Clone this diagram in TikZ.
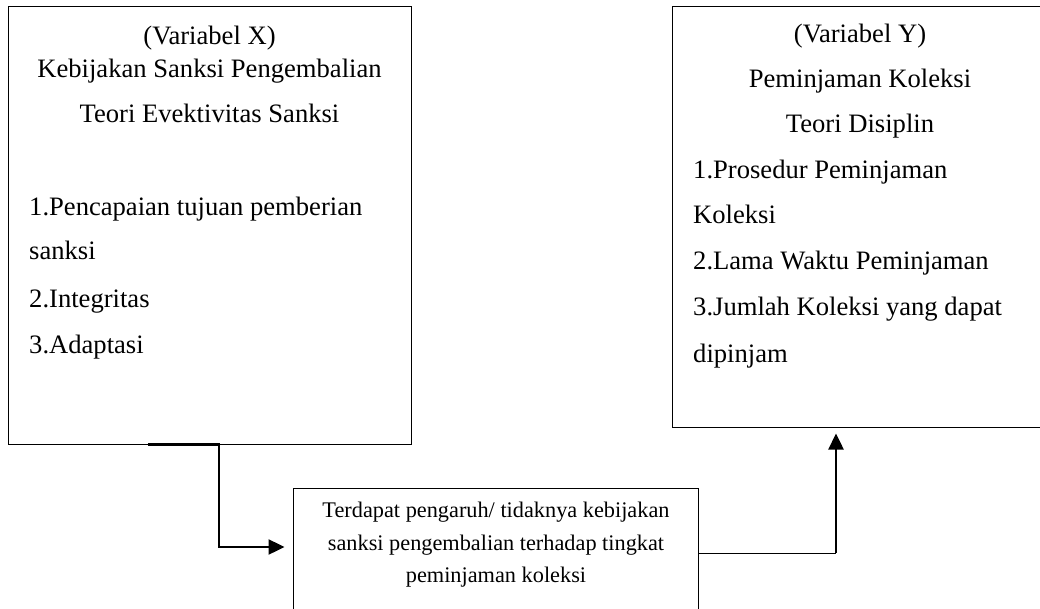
\documentclass[tikz,border=0pt]{standalone}
\usepackage{fontspec}
\setmainfont{Liberation Serif}
\usetikzlibrary{arrows.meta}
\tikzset{
  box/.style={draw, line width=1pt, inner sep=0pt},
  big/.style={font=\fontsize{26.6}{30}\selectfont, inner sep=0pt},
  small/.style={font=\fontsize{22.3}{26}\selectfont, inner sep=0pt},
  link/.style={line width=2.4pt, -{Triangle[length=16pt,width=15pt]}},
}
\begin{document}
\begin{tikzpicture}[x=1pt,y=-1pt]
\useasboundingbox (0,0) rectangle (1040,609);
\clip (0,0) rectangle (1040,609);
% the three boxes
\node[box, minimum width=403pt, minimum height=437pt] (varx) at (209.5,225.5) {};
\node[box, minimum width=378pt, minimum height=420pt] (vary) at (861,217) {};
\node[box, minimum width=405pt, minimum height=142pt] (hasil) at (495.5,559) {};

% variabel X
\node[big, anchor=base] (xa) at (209.5,45) {(Variabel X)};
\node[big, anchor=base] (xb) at (209.5,78) {Kebijakan Sanksi Pengembalian};
\node[big, anchor=base] (xc) at (209.5,123) {Teori Evektivitas Sanksi};
\foreach \t/\y [count=\i] in {1.Pencapaian tujuan pemberian/216, sanksi/260, 2.Integritas/307, 3.Adaptasi/353}
  \node[big, anchor=base west] (xi\i) at (29,\y) {\t};

% variabel Y
\node[big, anchor=base] (ya) at (860,43) {(Variabel Y)};
\node[big, anchor=base] (yb) at (860,88) {Peminjaman Koleksi};
\node[big, anchor=base] (yc) at (860,133) {Teori Disiplin};
\foreach \t/\y [count=\i] in {1.Prosedur Peminjaman/179, Koleksi/224, 2.Lama Waktu Peminjaman/270, 3.Jumlah Koleksi yang dapat/315, dipinjam/362}
  \node[big, anchor=base west] (yi\i) at (693,\y) {\t};

% hasil
\node[small, anchor=base] (ha) at (496,517) {Terdapat pengaruh/ tidaknya kebijakan};
\node[small, anchor=base] (hb) at (496,550) {sanksi pengembalian terhadap tingkat};
\node[small, anchor=base] (hc) at (496,582) {peminjaman koleksi};

% connectors
\draw[link, shorten >=8pt] ([xshift=-61.5pt]varx.south) -- ([xshift=9.5pt]varx.south)
  |- ([yshift=12pt]hasil.west);
\coordinate (belok) at (836,553);
\draw[line width=1pt] ([yshift=6pt]hasil.east) -- (belok);
\draw[link, shorten >=6pt] (belok) -- (belok |- vary.south);
\end{tikzpicture}
\end{document}
